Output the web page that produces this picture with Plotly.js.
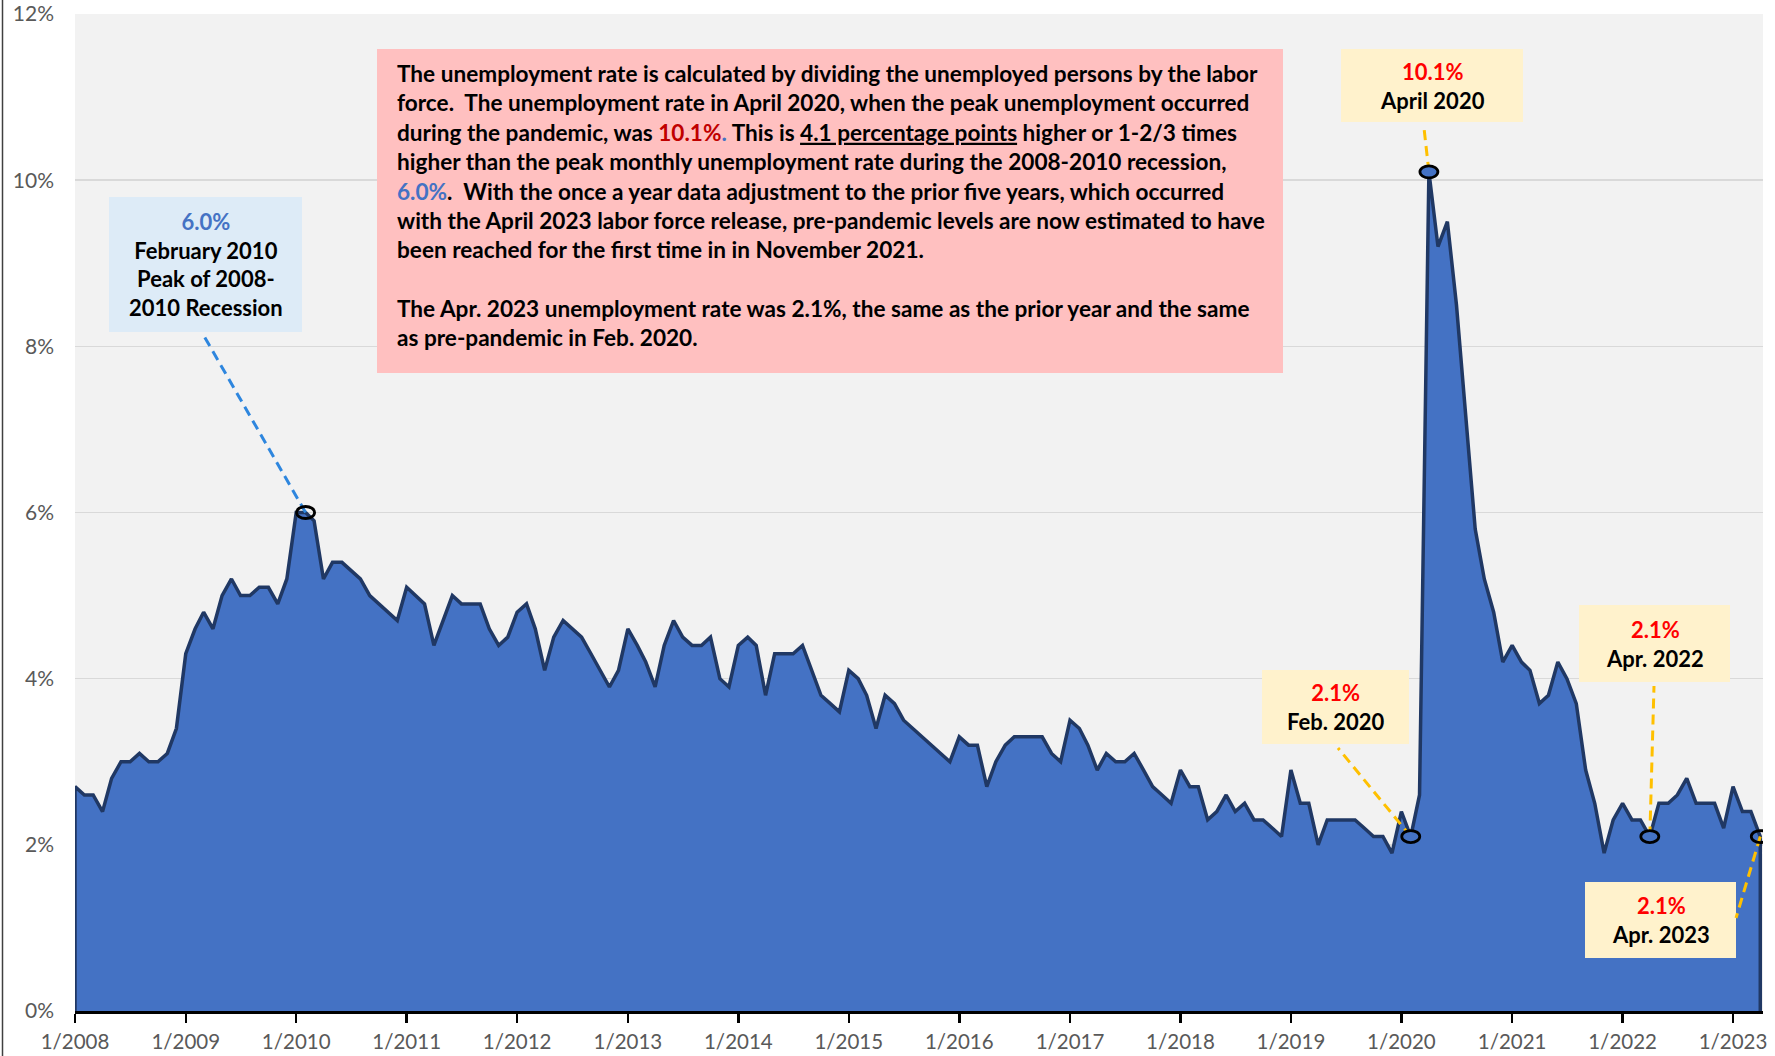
<!DOCTYPE html>
<html>
<head>
<meta charset="utf-8">
<script src="https://cdn.plot.ly/plotly-3.0.1.min.js"></script>
<style>
html,body{margin:0;padding:0;background:#ffffff;}
#chart{width:1775px;height:1056px;}
</style>
</head>
<body>
<div id="chart"></div>
<script>
// ---------------- DATA (monthly unemployment rate, %) ----------------
const rate2008 = [2.7, 2.6, 2.6, 2.4, 2.8, 3.0, 3.0, 3.1, 3.0, 3.0, 3.1, 3.4];
const rate2009 = [4.3, 4.6, 4.8, 4.6, 5.0, 5.2, 5.0, 5.0, 5.1, 5.1, 4.9, 5.2];
const rate2010 = [6.0, 6.0, 5.9, 5.2, 5.4, 5.4, 5.3, 5.2, 5.0, 4.9, 4.8, 4.7];
const rate2011 = [5.1, 5.0, 4.9, 4.4, 4.7, 5.0, 4.9, 4.9, 4.9, 4.6, 4.4, 4.5];
const rate2012 = [4.8, 4.9, 4.6, 4.1, 4.5, 4.7, 4.6, 4.5, 4.3, 4.1, 3.9, 4.1];
const rate2013 = [4.6, 4.4, 4.2, 3.9, 4.4, 4.7, 4.5, 4.4, 4.4, 4.5, 4.0, 3.9];
const rate2014 = [4.4, 4.5, 4.4, 3.8, 4.3, 4.3, 4.3, 4.4, 4.1, 3.8, 3.7, 3.6];
const rate2015 = [4.1, 4.0, 3.8, 3.4, 3.8, 3.7, 3.5, 3.4, 3.3, 3.2, 3.1, 3.0];
const rate2016 = [3.3, 3.2, 3.2, 2.7, 3.0, 3.2, 3.3, 3.3, 3.3, 3.3, 3.1, 3.0];
const rate2017 = [3.5, 3.4, 3.2, 2.9, 3.1, 3.0, 3.0, 3.1, 2.9, 2.7, 2.6, 2.5];
const rate2018 = [2.9, 2.7, 2.7, 2.3, 2.4, 2.6, 2.4, 2.5, 2.3, 2.3, 2.2, 2.1];
const rate2019 = [2.9, 2.5, 2.5, 2.0, 2.3, 2.3, 2.3, 2.3, 2.2, 2.1, 2.1, 1.9];
const rate2020 = [2.4, 2.1, 2.6, 10.1, 9.2, 9.5, 8.5, 7.1, 5.8, 5.2, 4.8, 4.2];
const rate2021 = [4.4, 4.2, 4.1, 3.7, 3.8, 4.2, 4.0, 3.7, 2.9, 2.5, 1.9, 2.3];
const rate2022 = [2.5, 2.3, 2.3, 2.1, 2.5, 2.5, 2.6, 2.8, 2.5, 2.5, 2.5, 2.2];
const rate2023 = [2.7, 2.4, 2.4, 2.1];

const years = [2008, 2009, 2010, 2011, 2012, 2013, 2014, 2015, 2016, 2017, 2018, 2019, 2020, 2021, 2022, 2023];
const yearlyRates = [rate2008, rate2009, rate2010, rate2011, rate2012, rate2013, rate2014, rate2015,
                     rate2016, rate2017, rate2018, rate2019, rate2020, rate2021, rate2022, rate2023];

const yTickValues = [0, 2, 4, 6, 8, 10, 12];
const yTickLabels = ['0%', '2%', '4%', '6%', '8%', '10%', '12%'];

// highlighted points
const calloutDates  = ['2010-02-01', '2020-04-01', '2020-02-01', '2022-04-01', '2023-04-01'];
const calloutValues = ['6.0%', '10.1%', '2.1%', '2.1%', '2.1%'];
const calloutNames  = ['February 2010<br>Peak of 2008-<br>2010 Recession', 'April 2020', 'Feb. 2020', 'Apr. 2022', 'Apr. 2023'];

// ---------------- build series ----------------
const dates = [];
const rates = [];
years.forEach((yr, k) => {
  yearlyRates[k].forEach((v, m) => {
    dates.push(yr + '-' + String(m + 1).padStart(2, '0') + '-01');
    rates.push(v);
  });
});

// ---------------- layout geometry (pixels) ----------------
const FW = 1775, FH = 1056;
const L = 75, R = 12, T = 14, B = 45;
const W = FW - L - R, H = FH - T - B;
const px = x => (x - L) / W;
const py = y => (T + H - y) / H;

const FONT = 'Lato, "Open Sans", sans-serif';

// callout styling/placement (pixel boxes) in the same order as calloutDates
const calloutStyle = [
  {box: [109, 197, 302, 332], bg: '#DDEBF7', valColor: '#4472C4', lead: [204, 336], leadColor: '#2E86DE', fill: 'rgba(0,0,0,0)'},
  {box: [1341, 49, 1523, 122], bg: '#FFF2CC', valColor: '#FF0000', lead: [1424, 128], leadColor: '#FFC000', fill: '#4472C4'},
  {box: [1262, 670, 1409, 744], bg: '#FFF2CC', valColor: '#FF0000', lead: [1338, 748], leadColor: '#FFC000', fill: '#4472C4'},
  {box: [1579, 605, 1730, 682], bg: '#FFF2CC', valColor: '#FF0000', lead: [1654, 686], leadColor: '#FFC000', fill: '#4472C4'},
  {box: [1585, 882, 1736, 958], bg: '#FFF2CC', valColor: '#FF0000', lead: [1736, 918], leadColor: '#FFC000', fill: 'rgba(0,0,0,0)'}
];

const xStart = '2008-01-01', xEnd = '2023-04-10';
const dayMs = 86400000;
const pxPerDay = W / ((Date.parse(xEnd) - Date.parse(xStart)) / dayMs);
const dateToPx = d => L + (Date.parse(d) - Date.parse(xStart)) / dayMs * pxPerDay;
const valToPx = v => T + H - v / 12 * H;

const shapes = [];
const annotations = [];

// left border of chart frame
shapes.push({type: 'line', xref: 'paper', yref: 'paper', x0: px(2.5), x1: px(2.5), y0: py(0), y1: py(FH),
             line: {color: '#404040', width: 1.5}, layer: 'above'});

// main explanatory box
shapes.push({type: 'rect', xref: 'paper', yref: 'paper', x0: px(377), x1: px(1283), y0: py(49), y1: py(373),
             fillcolor: '#FFC0C0', line: {width: 0}, layer: 'above'});

const mainText =
  'The unemployment rate is calculated by dividing the unemployed persons by the labor<br>' +
  'force.&nbsp; The unemployment rate in April 2020, when the peak unemployment occurred<br>' +
  'during the pandemic, was <span style="color:#C00000">10.1%</span><span style="color:#4472C4">.</span> This is <u>4.1 percentage points</u> higher or 1-2/3 times<br>' +
  'higher than the peak monthly unemployment rate during the 2008-2010 recession,<br>' +
  '<span style="color:#4472C4">6.0%</span>.&nbsp; With the once a year data adjustment to the prior five years, which occurred<br>' +
  'with the April 2023 labor force release, pre-pandemic levels are now estimated to have<br>' +
  'been reached for the first time in in November 2021.<br>' +
  '<br>' +
  'The Apr. 2023 unemployment rate was 2.1%, the same as the prior year and the same<br>' +
  'as pre-pandemic in Feb. 2020.';

annotations.push({xref: 'paper', yref: 'paper', x: px(395), y: py(58), xanchor: 'left', yanchor: 'top',
                  align: 'left', showarrow: false, text: mainText,
                  font: {family: FONT, size: 22.6, color: '#000000', weight: 700}});

// callouts
calloutDates.forEach((d, k) => {
  const st = calloutStyle[k];
  const idx = dates.indexOf(d);
  const val = rates[idx];
  const mx = dateToPx(d), my = valToPx(val);
  const [x0, y0, x1, y1] = st.box;
  // box
  shapes.push({type: 'rect', xref: 'paper', yref: 'paper', x0: px(x0), x1: px(x1), y0: py(y0), y1: py(y1),
               fillcolor: st.bg, line: {width: 0}, layer: 'above'});
  // leader line (pixel offsets from the data point)
  shapes.push({type: 'line', xref: 'x', yref: 'y', xsizemode: 'pixel', ysizemode: 'pixel',
               xanchor: d, yanchor: val, x0: 0, y0: 0, x1: st.lead[0] - mx, y1: my - st.lead[1],
               line: {color: st.leadColor, width: 3, dash: '10px,6px'}, layer: 'above'});
  // ellipse marker on the point
  shapes.push({type: 'circle', xref: 'x', yref: 'y', xsizemode: 'pixel', ysizemode: 'pixel',
               xanchor: d, yanchor: val, x0: -9, x1: 9, y0: -6, y1: 6,
               fillcolor: st.fill, line: {color: '#000000', width: 2.8}, layer: 'above'});
  // text
  annotations.push({xref: 'paper', yref: 'paper', x: px((x0 + x1) / 2), y: py((y0 + y1) / 2),
                    xanchor: 'center', yanchor: 'middle', showarrow: false, align: 'center',
                    text: '<span style="color:' + st.valColor + '">' + calloutValues[k] + '</span><br>' + calloutNames[k],
                    font: {family: FONT, size: 22, color: '#000000', weight: 700}});
});

// ---------------- traces ----------------
const areaTrace = {
  type: 'scatter', mode: 'lines',
  x: [dates[0]].concat(dates, [dates[dates.length - 1]]),
  y: [0].concat(rates, [0]),
  fill: 'toself', fillcolor: '#4472C4',
  line: {color: '#203864', width: 3.5},
  hoverinfo: 'x+y', showlegend: false
};

const layout = {
  width: FW, height: FH,
  margin: {l: L, r: R, t: T, b: B, pad: 0},
  paper_bgcolor: '#ffffff', plot_bgcolor: '#F2F2F2',
  showlegend: false,
  font: {family: FONT, color: '#595959', size: 21},
  xaxis: {
    type: 'date', range: [xStart, xEnd], tick0: '2008-01-01', dtick: 'M12', tickformat: '%-m/%Y',
    showgrid: false, zeroline: false,
    showline: true, linecolor: '#000000', linewidth: 3,
    ticks: 'outside', ticklen: 9, tickwidth: 2.5, tickcolor: '#000000',
    ticklabelstandoff: 1,
    tickfont: {family: FONT, size: 20.5, color: '#595959'}
  },
  yaxis: {
    range: [0, 12], tickvals: yTickValues, ticktext: yTickLabels,
    showgrid: true, gridcolor: '#D9D9D9', gridwidth: 1.5,
    zeroline: false, showline: false, ticks: '',
    ticklabelstandoff: 20,
    tickfont: {family: FONT, size: 21, color: '#595959'}
  },
  shapes: shapes,
  annotations: annotations
};

Plotly.newPlot('chart', [areaTrace], layout, {displayModeBar: false, staticPlot: true});
</script>
</body>
</html>
